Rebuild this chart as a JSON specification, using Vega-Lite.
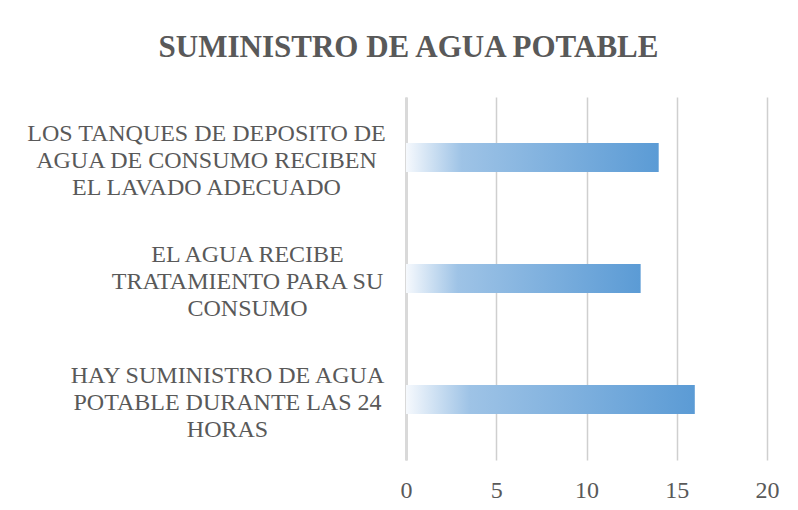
{
  "$schema": "https://vega.github.io/schema/vega-lite/v6.json",
  "width": 361,
  "height": 363,
  "autosize": "none",
  "padding": {"left": 406, "top": 97, "right": 31, "bottom": 50},
  "background": "white",
  "title": {
    "text": "SUMINISTRO DE AGUA POTABLE",
    "anchor": "middle",
    "frame": "group",
    "dx": -178,
    "dy": -23,
    "offset": 10,
    "font": "Times New Roman, Liberation Serif, DejaVu Serif, serif",
    "fontSize": 31,
    "fontWeight": "bold",
    "color": "#595959"
  },
  "data": {
    "values": [
      {"label": "LOS TANQUES DE DEPOSITO DE|AGUA DE CONSUMO RECIBEN|EL LAVADO ADECUADO", "value": 14},
      {"label": "EL AGUA RECIBE|TRATAMIENTO PARA SU|CONSUMO", "value": 13},
      {"label": "HAY SUMINISTRO DE AGUA|POTABLE DURANTE LAS 24|HORAS", "value": 16}
    ]
  },
  "mark": {
    "type": "bar",
    "color": {
      "x1": 0, "y1": 0, "x2": 1, "y2": 0,
      "gradient": "linear",
      "stops": [
        {"offset": 0, "color": "#f6f9fd"},
        {"offset": 0.22, "color": "#9ec3e6"},
        {"offset": 1, "color": "#5b9bd5"}
      ]
    }
  },
  "encoding": {
    "y": {
      "field": "label",
      "type": "nominal",
      "sort": null,
      "scale": {"paddingInner": 0.76, "paddingOuter": 0.38},
      "axis": {
        "title": null,
        "labelExpr": "split(datum.value, '|')",
        "labelFont": "Times New Roman, Liberation Serif, DejaVu Serif, serif",
        "labelFontSize": 24,
        "labelLineHeight": 27,
        "labelColor": "#595959",
        "labelAlign": "center",
        "labelBaseline": "middle",
        "labelOffset": -24,
        "labelLimit": 0,
        "labelPadding": {
          "condition": [
            {"test": "indexof(datum.value, 'LOS') == 0", "value": 200},
            {"test": "indexof(datum.value, 'EL AGUA') == 0", "value": 159}
          ],
          "value": 179
        },
        "ticks": false,
        "domain": true,
        "domainColor": "#d9d9d9",
        "domainWidth": 3,
        "grid": false
      }
    },
    "x": {
      "field": "value",
      "type": "quantitative",
      "scale": {"domain": [0, 20], "nice": false},
      "axis": {
        "title": null,
        "values": [0, 5, 10, 15, 20],
        "labelFont": "Times New Roman, Liberation Serif, DejaVu Serif, serif",
        "labelFontSize": 24,
        "labelColor": "#595959",
        "labelPadding": 18,
        "labelFlush": false,
        "ticks": false,
        "domain": false,
        "grid": true,
        "gridColor": "#cfcfcf",
        "gridWidth": 1.5
      }
    }
  },
  "config": {
    "view": {"stroke": null}
  }
}
